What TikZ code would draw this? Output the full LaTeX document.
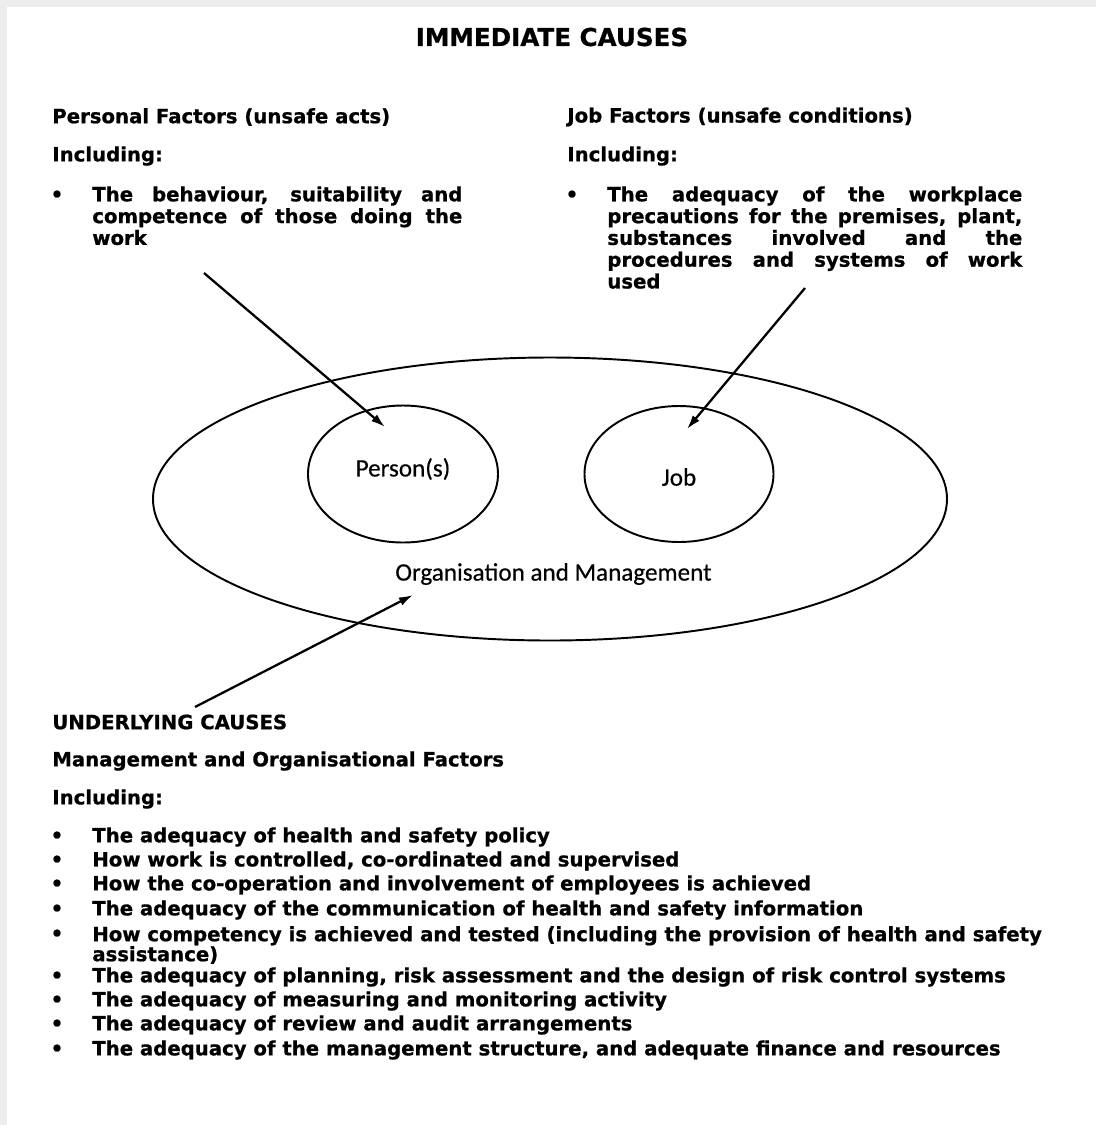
\documentclass[tikz,border=0pt]{standalone}
\usepackage{fontspec}
\setmainfont{DejaVu Sans}[BoldFeatures={FakeBold=0.8}]
\newfontfamily\calfont{Carlito}[FakeBold=0.4]
\usetikzlibrary{arrows.meta}

\newcommand{\bodyfont}{\fontsize{11.2}{13.6}\selectfont\bfseries}
\newcommand{\parfont}{\fontsize{11.2}{12.4}\selectfont\bfseries}
\newcommand{\twolinefont}{\fontsize{11.2}{11.4}\selectfont\bfseries}
\newcommand{\inlabelfont}{\calfont\fontsize{14.3}{16}\selectfont}

\tikzset{
  txt/.style={right,inner sep=0pt,font=\bodyfont},
  hdr/.style={inner sep=0pt,font=\fontsize{14}{16}\selectfont\bfseries},
  bul/.style={inner sep=0pt,font=\bodyfont},
  para/.style={anchor=north west,inner sep=0pt,align=justify,font=\parfont},
  inlabel/.style={inner sep=0pt,font=\inlabelfont},
  ring/.style={line width=1.1pt},
  pointer/.style={line width=1.3pt,-{Latex[length=8pt,width=5pt]}},
}

\begin{document}
\begin{tikzpicture}[x=2cm,y=-2cm]

\fill[black!7] (0,0) rectangle (10.96,11.25);
\fill[white] (0.07,0.07) rectangle (10.96,11.25);
\useasboundingbox (0,0) rectangle (10.96,11.25);

\node (title) at (5.52,0.37) [hdr] {IMMEDIATE CAUSES};

% personal factors
\node (pers) at (0.52,1.17) [txt] {Personal Factors (unsafe acts)};
\node (persinc) at (0.52,1.56) [txt] {Including:};
\node (persbul) at (0.57,1.96) [bul] {\textbullet};
\node (perstxt) at (0.92,1.86) [para,text width=7.4cm]
{The behaviour, suitability and\linebreak competence of those doing the\linebreak work};

% job factors
\node (job) at (5.67,1.17) [txt] {Job Factors (unsafe conditions)};
\node (jobinc) at (5.67,1.56) [txt] {Including:};
\node (jobbul) at (5.72,1.96) [bul] {\textbullet};
\node (jobtxt) at (6.07,1.86) [para,text width=8.3cm]
{The adequacy of the workplace\linebreak precautions for the premises, plant,\linebreak
substances involved and the\linebreak procedures and systems of work\linebreak used};

% organisation ellipse
\draw[ring] (5.50,4.99) ellipse (3.97 and 1.415);
\draw[ring] (4.03,4.74) ellipse (0.95 and 0.685);
\draw[ring] (6.79,4.74) ellipse (0.945 and 0.68);

\node (personlbl) at (4.03,4.69) [inlabel] {Person(s)};
\node (joblbl) at (6.79,4.77) [inlabel] {Job};
\node (orglbl) at (3.95,5.74) [inlabel,right] {Organisation and Management};

% arrows
\coordinate (perstail) at (2.04,2.73);
\coordinate (perstip) at (3.85,4.27);
\coordinate (jobtail) at (8.05,2.88);
\coordinate (jobtip) at (6.87,4.29);
\coordinate (undtail) at (1.95,7.07);
\coordinate (orgtip) at (4.13,5.95);

\draw[pointer] (perstail) -- (perstip);
\draw[pointer] (jobtail) -- (jobtip);
\draw[pointer] (undtail) -- (orgtip);

% underlying causes
\node (under) at (0.52,7.22) [txt] {UNDERLYING CAUSES};
\node (mgmt) at (0.52,7.61) [txt] {Management and Organisational Factors};
\node (mgmtinc) at (0.52,7.99) [txt] {Including:};

\node (b1) at (0.57,8.37) [bul] {\textbullet};
\node (i1) at (0.92,8.37) [txt] {The adequacy of health and safety policy};
\node (b2) at (0.57,8.61) [bul] {\textbullet};
\node (i2) at (0.92,8.61) [txt] {How work is controlled, co-ordinated and supervised};
\node (b3) at (0.57,8.85) [bul] {\textbullet};
\node (i3) at (0.92,8.85) [txt] {How the co-operation and involvement of employees is achieved};
\node (b4) at (0.57,9.10) [bul] {\textbullet};
\node (i4) at (0.92,9.10) [txt] {The adequacy of the communication of health and safety information};
\node (b5) at (0.57,9.35) [bul] {\textbullet};
\node (i5) at (0.92,9.45) [txt,align=left,font=\twolinefont]
{How competency is achieved and tested (including the provision of health and safety\\ assistance)};
\node (b6) at (0.57,9.77) [bul] {\textbullet};
\node (i6) at (0.92,9.77) [txt] {The adequacy of planning, risk assessment and the design of risk control systems};
\node (b7) at (0.57,10.01) [bul] {\textbullet};
\node (i7) at (0.92,10.01) [txt] {The adequacy of measuring and monitoring activity};
\node (b8) at (0.57,10.25) [bul] {\textbullet};
\node (i8) at (0.92,10.25) [txt] {The adequacy of review and audit arrangements};
\node (b9) at (0.57,10.50) [bul] {\textbullet};
\node (i9) at (0.92,10.50) [txt] {The adequacy of the management structure, and adequate finance and resources};

\end{tikzpicture}
\end{document}
